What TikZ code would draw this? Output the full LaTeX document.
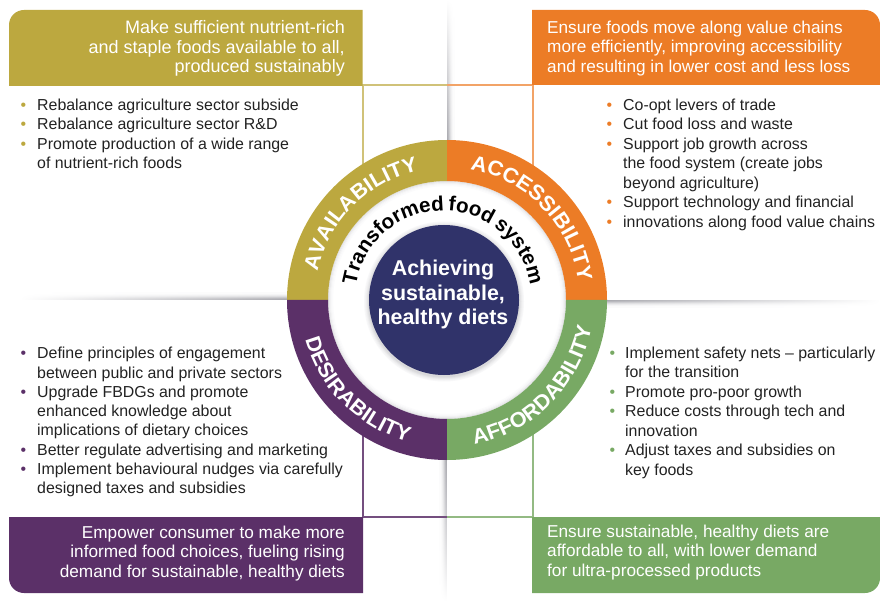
\documentclass[tikz,border=0pt]{standalone}
\usepackage{fontspec}
\setmainfont{Liberation Sans}
\newfontfamily\ringfont[FakeStretch=1.04]{Liberation Sans}
\newfontfamily\tfsfont[WordSpace=0.7]{Liberation Sans}
\usetikzlibrary{calc,decorations.text}
\definecolor{cAva}{HTML}{BCA83F}
\definecolor{cAcc}{HTML}{EC7C26}
\definecolor{cDes}{HTML}{5B3068}
\definecolor{cAff}{HTML}{78A964}
\definecolor{cNavy}{HTML}{30336A}
\definecolor{cBody}{HTML}{222222}
\definecolor{cShadow}{HTML}{A8A8AE}
\newcommand{\bul}[2][11pt]{\leavevmode\llap{\textcolor{#2}{•}\hspace{#1}}}
\tikzset{
  x=1pt,y=1pt,
  headtext/.style={text=white,font=\fontsize{17.2}{19.7}\selectfont,inner sep=0pt},
  listtext/.style={text=cBody,font=\fontsize{15.9}{19.55}\selectfont,inner sep=0pt,align=left,anchor=north west},
  thinline/.style={line width=2pt},
}
\begin{document}
\begin{tikzpicture}
\useasboundingbox (0,0) rectangle (880,-601);
\coordinate (c) at (447,-300);
% soft shadow bands
\foreach \i/\p in {0/100,1/85,2/62,3/40,4/24,5/12,6/5}{
  \shade[top color=white,bottom color=cShadow!\p!white] (447.5+\i,0) rectangle (448.5+\i,-145);
  \shade[top color=cShadow!\p!white,bottom color=white] (446.5-\i,-455) rectangle (445.5-\i,-601);
  \shade[left color=white,middle color=cShadow!\p!white!80!white,right color=cShadow!\p!white] (20,-299.5+\i) rectangle (295,-298.5+\i);
  \shade[left color=cShadow!\p!white,middle color=cShadow!\p!white!80!white,right color=white] (600,-300.5-\i) rectangle (880,-301.5-\i);
}
% guide lines
\coordinate (avaC) at (362.5,-85.5);
\coordinate (accC) at (532.5,-85.5);
\coordinate (desC) at (362.5,-517);
\coordinate (affC) at (532.5,-517);
\coordinate (topM) at (447,-85.5);
\coordinate (botM) at (447,-517);
\coordinate (avaR) at (362.5,-170);
\coordinate (accR) at (532.5,-170);
\coordinate (desR) at (362.5,-430);
\coordinate (affR) at (532.5,-430);
\draw[thinline,cAva!70!white] (avaR) -- (avaC) -- (topM);
\draw[thinline,cAcc!70!white] (accR) -- (accC) -- (topM);
\draw[thinline,cDes!85!white] (desR) -- (desC) -- (botM);
\draw[thinline,cAff!80!white] (affR) -- (affC) -- (botM);
% header boxes
\fill[cAva] (9,-86) -- (9,-25) arc[start angle=180,end angle=90,radius=15pt] -- (362.5,-10) -- (362.5,-86) -- cycle;
\fill[cAcc] (532,-85) -- (532,-10) -- (865,-10) arc[start angle=90,end angle=0,radius=15pt] -- (880,-85) -- cycle;
\fill[cDes] (9,-517) -- (363,-517) -- (363,-593) -- (24,-593) arc[start angle=270,end angle=180,radius=15pt] -- cycle;
\fill[cAff] (532,-517) -- (880,-517) -- (880,-578) arc[start angle=0,end angle=-90,radius=15pt] -- (532,-593) -- cycle;
\node[headtext,anchor=east,align=right,font=\fontsize{18}{19.7}\selectfont] (availhead) at (345,-48.5) {Make sufficient nutrient-rich\\and staple foods available to all,\\produced sustainably};
\node[headtext,anchor=west,align=left] (accesshead) at (547,-48.5) {Ensure foods move along value chains\\more efficiently, improving accessibility\\and resulting in lower cost and less loss};
\node[headtext,anchor=east,align=right] (desirehead) at (345,-553.5) {Empower consumer to make more\\informed food choices, fueling rising\\demand for sustainable, healthy diets};
\node[headtext,anchor=west,align=left] (affordhead) at (547,-552.5) {Ensure sustainable, healthy diets are\\affordable to all, with lower demand\\for ultra-processed products};
% lists
\node[listtext] (availlist) at (37,-98.5) {\bul{cAva}Rebalance agriculture sector subside\\\bul{cAva}Rebalance agriculture sector R\&D\\\bul{cAva}Promote production of a wide range\\of nutrient-rich foods};
\node[listtext] (accesslist) at (623,-98.5) {\bul{cAcc}Co-opt levers of trade\\\bul{cAcc}Cut food loss and waste\\\bul{cAcc}Support job growth across\\the food system (create jobs\\beyond agriculture)\\\bul{cAcc}Support technology and financial\\\bul{cAcc}innovations along food value chains};
\node[listtext,font=\fontsize{15.9}{19.3}\selectfont] (desirelist) at (37,-347) {\bul{cDes}Define principles of engagement\\between public and private sectors\\\bul{cDes}Upgrade FBDGs and promote\\enhanced knowledge about\\implications of dietary choices\\\bul{cDes}Better regulate advertising and marketing\\\bul{cDes}Implement behavioural nudges via carefully\\designed taxes and subsidies};
\node[listtext] (affordlist) at (625,-346.5) {\bul[10pt]{cAff}Implement safety nets – particularly\\for the transition\\\bul[10pt]{cAff}Promote pro-poor growth\\\bul[10pt]{cAff}Reduce costs through tech and\\innovation\\\bul[10pt]{cAff}Adjust taxes and subsidies on\\key foods};
% inner disc soft edge
\fill[white] (c) circle[radius=120pt];
\foreach \r/\p in {118.5/35,117.5/24,116.5/15,115.5/8,114.5/4}{\draw[cShadow!\p!white,line width=1.1pt] (c) circle[radius=\r pt];}
% ring
\fill[cAva] ($(c)+(90:160)$) arc[start angle=90,end angle=180,radius=160pt] -- ($(c)+(180:119)$) arc[start angle=180,end angle=90,radius=119pt] -- cycle;
\fill[cAcc] ($(c)+(0:160)$) arc[start angle=0,end angle=90,radius=160pt] -- ($(c)+(90:119)$) arc[start angle=90,end angle=0,radius=119pt] -- cycle;
\fill[cDes] ($(c)+(180:160)$) arc[start angle=180,end angle=270,radius=160pt] -- ($(c)+(270:119)$) arc[start angle=270,end angle=180,radius=119pt] -- cycle;
\fill[cAff] ($(c)+(270:160)$) arc[start angle=270,end angle=360,radius=160pt] -- ($(c)+(0:119)$) arc[start angle=0,end angle=-90,radius=119pt] -- cycle;
% ring labels
\path[decorate,decoration={text along path,text align=center,text={|\color{white}\ringfont\bfseries\fontsize{21}{20}\selectfont|AVAILABILITY}}]
  ($(c)+(179:132.5)$) arc[start angle=179,end angle=91,radius=132.5pt];
\path[decorate,decoration={text along path,text align=center,text={|\color{white}\ringfont\bfseries\fontsize{21}{20}\selectfont|ACCESSIBILITY}}]
  ($(c)+(88:132.5)$) arc[start angle=88,end angle=0,radius=132.5pt];
\path[decorate,decoration={text along path,text align=center,text={|\color{white}\ringfont\bfseries\fontsize{21}{20}\selectfont|DESIRABILITY}}]
  ($(c)+(180:147)$) arc[start angle=180,end angle=270,radius=147pt];
\path[decorate,decoration={text along path,text align=center,text={|\color{white}\ringfont\bfseries\fontsize{21}{20}\selectfont|AFFORDABILITY}}]
  ($(c)+(270:147)$) arc[start angle=270,end angle=360,radius=147pt];
% centre
\coordinate (c2) at (444,-300);
\foreach \r/\p in {80/8,79/14,78/22,77/32,76/44}{\fill[cShadow!\p!white] ($(c2)+(0,-1.5)$) circle[radius=\r pt];}
\node[circle,fill=cNavy,minimum size=150pt,inner sep=0pt] (hub) at (c2) {};
\node[text=white,font=\bfseries\fontsize{21.4}{24.5}\selectfont,align=center,inner sep=0pt] (hubtext) at (443,-294.5) {Achieving\\sustainable,\\healthy diets};
\path[decorate,decoration={text along path,text align=center,text={|\color{black}\tfsfont\bfseries\fontsize{20.6}{20}\selectfont|Transformed food system}}]
  ($(443,-298.5)+(190:88)$) arc[start angle=190,end angle=-10,radius=88pt];
\end{tikzpicture}
\end{document}
